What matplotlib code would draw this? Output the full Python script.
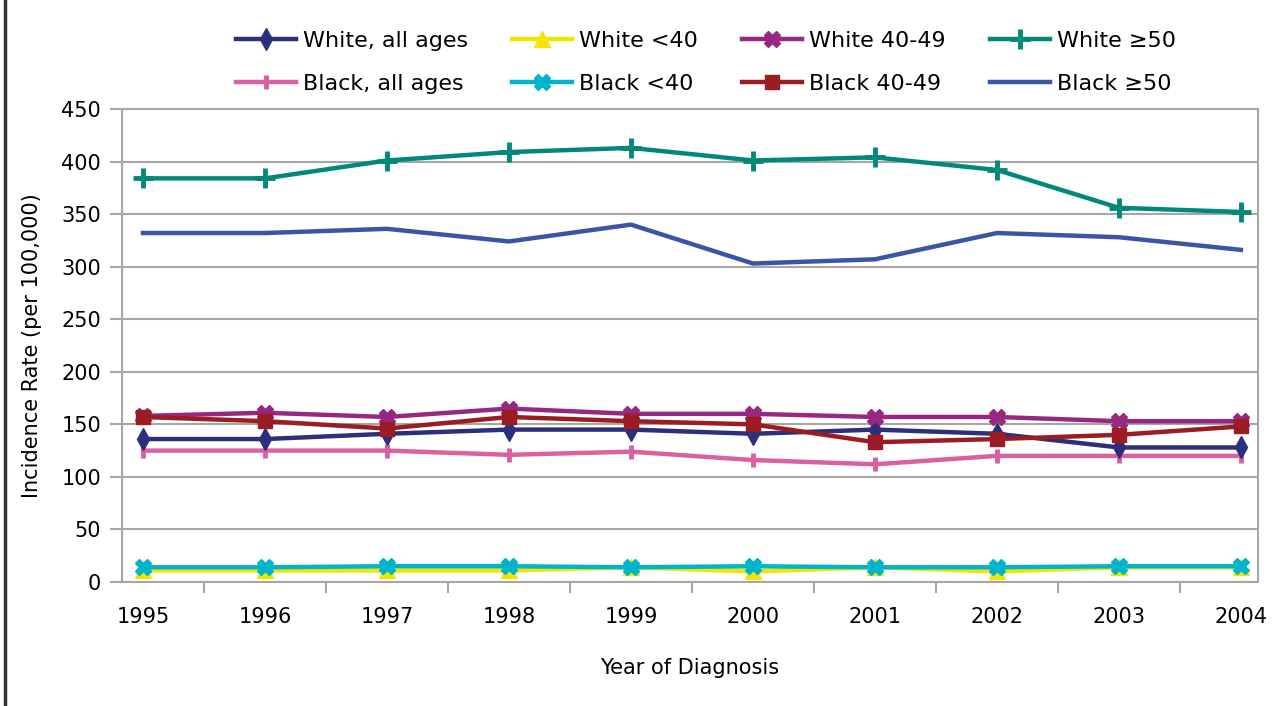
import matplotlib
matplotlib.use("Agg")
import matplotlib.pyplot as plt
from matplotlib.lines import Line2D
import numpy as np

years = ["1995", "1996", "1997", "1998", "1999", "2000", "2001", "2002", "2003", "2004"]

white_all = [136, 136, 141, 145, 145, 141, 145, 141, 128, 128]
white_lt40 = [11, 11, 11, 11, 14, 10, 14, 10, 14, 14]
white_40_49 = [158, 161, 157, 165, 160, 160, 157, 157, 153, 153]
white_ge50 = [384, 384, 401, 409, 413, 401, 404, 392, 356, 352]
black_all = [125, 125, 125, 121, 124, 116, 112, 120, 120, 120]
black_lt40 = [14, 14, 15, 15, 14, 15, 14, 14, 15, 15]
black_40_49 = [157, 153, 146, 157, 153, 150, 133, 136, 140, 148]
black_ge50 = [332, 332, 336, 324, 340, 303, 307, 332, 328, 316]

labels = ["White, all ages", "White <40", "White 40-49", "White \u226550",
          "Black, all ages", "Black <40", "Black 40-49", "Black \u226550"]
colors = ["#2B2F7C", "#F2E600", "#982781", "#00887B",
          "#DB5FA1", "#00B4CE", "#9B1C22", "#3A55A8"]
markers = ["d", "^", "X", "+", "|", "X", "s", "None"]

plt.rcParams['font.family'] = ['DejaVu Sans']

fig = plt.figure(figsize=(12.72, 7.06), dpi=100)
ax = fig.add_axes([122/1272, 1-582/706, (1258-122)/1272, (582-109)/706])

x = np.arange(len(years))
series = [white_all, white_lt40, white_40_49, white_ge50,
          black_all, black_lt40, black_40_49, black_ge50]
zorders = [5, 3, 5, 5, 4, 4, 6, 5]
msizes = [11, 11, 11, 14, 10, 11, 10, 0]
handles = []
for i in range(8):
    mk = markers[i]
    kw = dict(color=colors[i], lw=3.2, marker=mk, markersize=msizes[i],
              markeredgewidth=3.5 if mk in ("+", "|") else 1.0,
              markeredgecolor=colors[i], markerfacecolor=colors[i])
    ax.plot(x, series[i], zorder=zorders[i], clip_on=False, **kw)
    handles.append(Line2D([], [], label=labels[i], **kw))

ax.set_xlim(-0.172, 9.14)
ax.set_ylim(0, 450)
ax.set_yticks(np.arange(0, 451, 50))
ax.set_xticks(x)
ax.set_xticklabels(years)
ax.set_xticks(x[:-1] + 0.5, minor=True)
ax.tick_params(axis='x', which='major', length=0, pad=18, labelsize=15)
ax.tick_params(axis='x', which='minor', length=8, width=1.5, color="#A6A6A6")
ax.tick_params(axis='y', length=9, width=1.5, color="#A6A6A6", labelsize=15, pad=6)
ax.grid(axis='y', color="#A6A6A6", lw=1.5)
ax.set_axisbelow(True)
for s in ax.spines.values():
    s.set_color("#A6A6A6")
    s.set_linewidth(1.5)

ax.set_ylabel("Incidence Rate (per 100,000)", fontsize=15, labelpad=14)
ax.set_xlabel("Year of Diagnosis", fontsize=15, labelpad=22)

# legend filled column-wise -> reorder so rows read White..., Black...
leg_order = [0, 4, 1, 5, 2, 6, 3, 7]
leg = fig.legend(handles=[handles[k] for k in leg_order], loc="upper center", ncol=4,
                 bbox_to_anchor=(0.555, 0.985), frameon=False, fontsize=16,
                 handlelength=2.7, columnspacing=2.0, handletextpad=0.3,
                 labelspacing=1.05)

fig.add_artist(Line2D([5/1272, 5/1272], [0, 1], color="#333333", lw=2.5,
                      transform=fig.transFigure))

fig.savefig("out.png", dpi=100)
